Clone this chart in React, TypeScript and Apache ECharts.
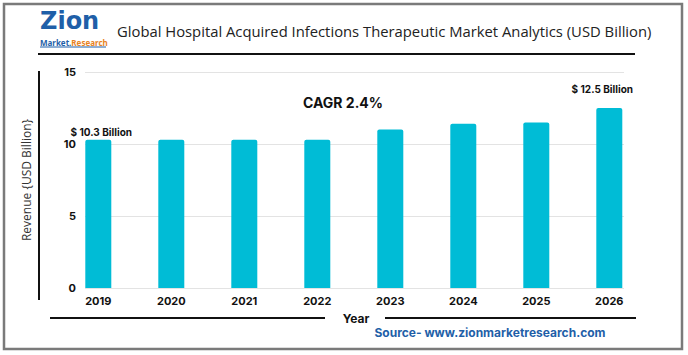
import React, { useEffect, useRef } from "react";
import * as echarts from "echarts";

const years = ["2019", "2020", "2021", "2022", "2023", "2024", "2025", "2026"];
const revenue = [10.3, 10.3, 10.3, 10.3, 11.0, 11.4, 11.5, 12.5];
const labelledIdx = [0, 7];
const yTicks = { min: 0, max: 15, interval: 5 };

export default function App() {
  const ref = useRef<HTMLDivElement>(null);
  useEffect(() => {
    if (!ref.current) return;
    const chart = echarts.init(ref.current, undefined, { renderer: "svg" });
    const font = "Inter, 'Noto Sans', sans-serif";
    chart.setOption({
      animation: false,
      backgroundColor: "#ffffff",
      grid: [
        { left: 61.8, right: 42.2, top: 72, bottom: 67 },
        { left: 85, right: 64, top: 72, bottom: 67 },
      ],
      xAxis: [
        {
          type: "category",
          gridIndex: 0,
          data: years,
          axisLine: { show: false },
          axisTick: { show: false },
          axisLabel: { color: "#111", fontWeight: "bold", fontSize: 11, margin: 7, fontFamily: font },
        },
        { type: "value", gridIndex: 1, min: 0, max: 1, show: false },
      ],
      yAxis: [
        { type: "value", gridIndex: 0, ...yTicks, show: false },
        {
          type: "value",
          gridIndex: 1,
          ...yTicks,
          axisLine: { show: false },
          axisTick: { show: false },
          splitLine: { lineStyle: { color: "#e3e3e3", width: 1 } },
          axisLabel: { color: "#111", fontWeight: "bold", fontSize: 11, margin: 9, fontFamily: font },
          name: "Revenue {USD Billion}",
          nameLocation: "middle",
          nameRotate: 90,
          nameGap: 53,
          nameTextStyle: { color: "#333", fontSize: 12, fontFamily: "'Open Sans', sans-serif" },
        },
      ],
      series: [
        {
          type: "bar",
          xAxisIndex: 0,
          yAxisIndex: 0,
          barWidth: 26,
          itemStyle: { color: "#00bcd6", borderRadius: [2, 2, 0, 0] },
          data: revenue.map((v, i) => ({
            value: v,
            label: {
              show: labelledIdx.includes(i),
              position: "top",
              distance: i === 0 ? 3 : 14,
              offset: i === 0 ? [3, 0] : [-7, 0],
              formatter: "$ {c} Billion",
              color: "#111",
              fontWeight: "bold",
              fontSize: 10,
              fontFamily: font,
            },
          })),
        },
        { type: "line", xAxisIndex: 1, yAxisIndex: 1, data: [], silent: true },
      ],
      graphic: [
        {
          type: "rect",
          shape: { x: 4, y: 4, width: 678, height: 345 },
          style: { fill: "none", stroke: "#7a7a7a", lineWidth: 2.5 },
          silent: true,
        },
        {
          type: "text",
          left: 40,
          top: 9,
          style: {
            text: "Zion",
            fill: "#1f5fa8",
            font: "900 24px 'DejaVu Sans', sans-serif",
          },
        },
        {
          type: "text",
          left: 40,
          top: 38,
          style: {
            text: "{a|Market.}{b|Research}",
            rich: {
              a: { fill: "#1f5fa8", fontSize: 8, fontWeight: "bold", fontFamily: "'Noto Sans', sans-serif" },
              b: { fill: "#e8821e", fontSize: 8, fontWeight: "bold", fontFamily: "'Noto Sans', sans-serif" },
            },
          },
        },
        {
          type: "line",
          shape: { x1: 40, y1: 47, x2: 106, y2: 47 },
          style: { stroke: "#1f5fa8", lineWidth: 1 },
        },
        {
          type: "text",
          left: 117,
          top: 23,
          style: {
            text: "Global Hospital Acquired Infections Therapeutic Market Analytics (USD Billion)",
            fill: "#222",
            font: "14.8px 'Open Sans', sans-serif",
          },
        },
        {
          type: "line",
          shape: { x1: 38, y1: 54, x2: 635, y2: 54 },
          style: { stroke: "#111", lineWidth: 2 },
        },
        {
          type: "line",
          shape: { x1: 39, y1: 71, x2: 39, y2: 300 },
          style: { stroke: "#111", lineWidth: 2 },
        },
        {
          type: "line",
          shape: { x1: 50, y1: 318, x2: 325, y2: 318 },
          style: { stroke: "#111", lineWidth: 2 },
        },
        {
          type: "line",
          shape: { x1: 385, y1: 318, x2: 636, y2: 318 },
          style: { stroke: "#111", lineWidth: 2 },
        },
        {
          type: "text",
          x: 356,
          y: 318,
          style: {
            text: "Year",
            fill: "#111",
            font: "bold 12px " + font,
            align: "center",
            verticalAlign: "middle",
          },
        },
        {
          type: "text",
          x: 490,
          y: 332,
          style: {
            text: "Source- www.zionmarketresearch.com",
            fill: "#1f5fa8",
            font: "bold 12px " + font,
            align: "center",
            verticalAlign: "middle",
          },
        },
        {
          type: "text",
          x: 343,
          y: 102,
          style: {
            text: "CAGR 2.4%",
            fill: "#111",
            font: "bold 14px " + font,
            align: "center",
            verticalAlign: "middle",
          },
        },
      ],
    });
    return () => chart.dispose();
  }, []);
  return (
    <div
      ref={ref}
      style={{ position: "fixed", left: 0, top: 0, width: 688, height: 355 }}
    />
  );
}
